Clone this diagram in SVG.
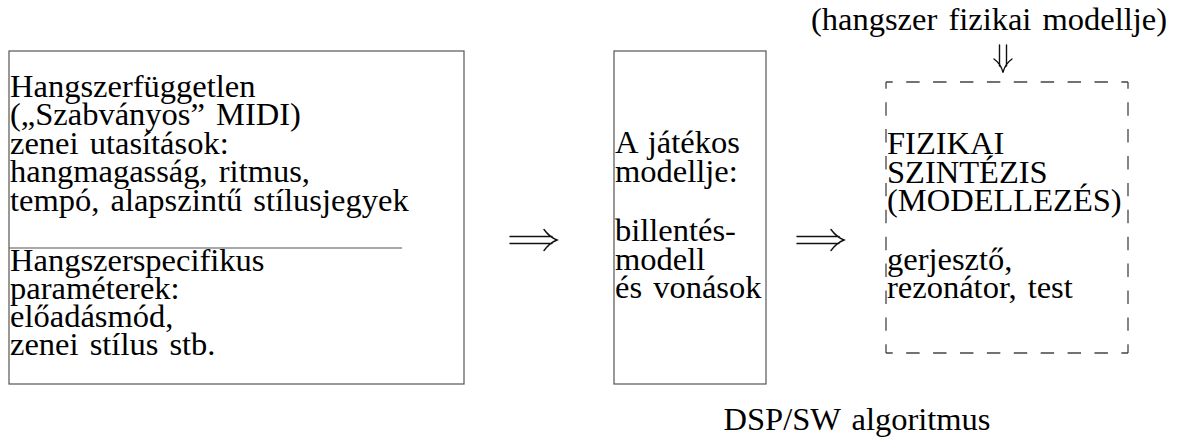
<svg xmlns="http://www.w3.org/2000/svg" width="1182" height="439" viewBox="0 0 1182 439">
  <style>
    .t { font-family: "Liberation Serif", "Times New Roman", serif; font-size: 32.5px; fill: #000; word-spacing: 3px; }
    .box { fill: none; stroke: #555; stroke-width: 1.2; }
    .dash { fill: none; stroke: #444; stroke-width: 1.3; stroke-dasharray: 13.45 13.45; stroke-dashoffset: 6.72; }
    .arr { fill: none; stroke: #111; stroke-width: 1.4; stroke-linecap: round; }
  </style>

  <!-- instrument-independent and instrument-specific inputs -->
  <g id="node-input">
    <rect class="box" x="9" y="51" width="455" height="333"/>
    <line class="box" x1="9" y1="248" x2="402" y2="248"/>
    <text class="t">
      <tspan x="10" y="96.5">Hangszerfüggetlen</tspan>
      <tspan x="10" y="125">(„Szabványos” MIDI)</tspan>
      <tspan x="10" y="153.5">zenei utasítások:</tspan>
      <tspan x="10" y="182">hangmagasság, ritmus,</tspan>
      <tspan x="10" y="210.5">tempó, alapszintű stílusjegyek</tspan>
    </text>
    <text class="t">
      <tspan x="10" y="271">Hangszerspecifikus</tspan>
      <tspan x="10" y="299">paraméterek:</tspan>
      <tspan x="10" y="327">előadásmód,</tspan>
      <tspan x="10" y="355">zenei stílus stb.</tspan>
    </text>
  </g>

  <!-- player model -->
  <g id="node-player">
    <rect class="box" x="614" y="51" width="152" height="333"/>
    <text class="t">
      <tspan x="615" y="153">A játékos</tspan>
      <tspan x="615" y="181.5">modellje:</tspan>
      <tspan x="615" y="241">billentés-</tspan>
      <tspan x="615" y="269.5">modell</tspan>
      <tspan x="615" y="298">és vonások</tspan>
    </text>
  </g>

  <!-- physical synthesis (dashed) -->
  <g id="node-synthesis">
    <line class="dash" x1="886" y1="82" x2="1128" y2="82"/>
    <line class="dash" x1="886" y1="353" x2="1128" y2="353"/>
    <line class="dash" x1="886" y1="82" x2="886" y2="353"/>
    <line class="dash" x1="1128" y1="82" x2="1128" y2="353"/>
    <text class="t">
      <tspan x="887" y="154">FIZIKAI</tspan>
      <tspan x="887" y="182.5">SZINTÉZIS</tspan>
      <tspan x="887" y="211">(MODELLEZÉS)</tspan>
      <tspan x="887" y="269.5">gerjesztő,</tspan>
      <tspan x="887" y="298">rezonátor, test</tspan>
    </text>
  </g>

  <!-- physical model of the instrument -->
  <g id="node-model">
    <text class="t" x="989" y="30" text-anchor="middle">(hangszer fizikai modellje)</text>
  </g>

  <!-- algorithm caption -->
  <g id="node-dsp">
    <text class="t" x="857" y="430" text-anchor="middle">DSP/SW algoritmus</text>
  </g>

  <!-- double-stroke arrows -->
  <g id="connectors">
    <path class="arr" d="M510 236.5 H552 M510 243.5 H552 M544 229.5 Q549.5 237 557 240 Q549.5 243 544 250.5"/>
    <path class="arr" d="M797 236.5 H839 M797 243.5 H839 M831 229.5 Q836.5 237 844 240 Q836.5 243 831 250.5"/>
    <path class="arr" d="M999.5 45 V66 M1006.5 45 V66 M994 59 Q1001 64 1003 72.5 Q1005 64 1012 59"/>
  </g>
</svg>
